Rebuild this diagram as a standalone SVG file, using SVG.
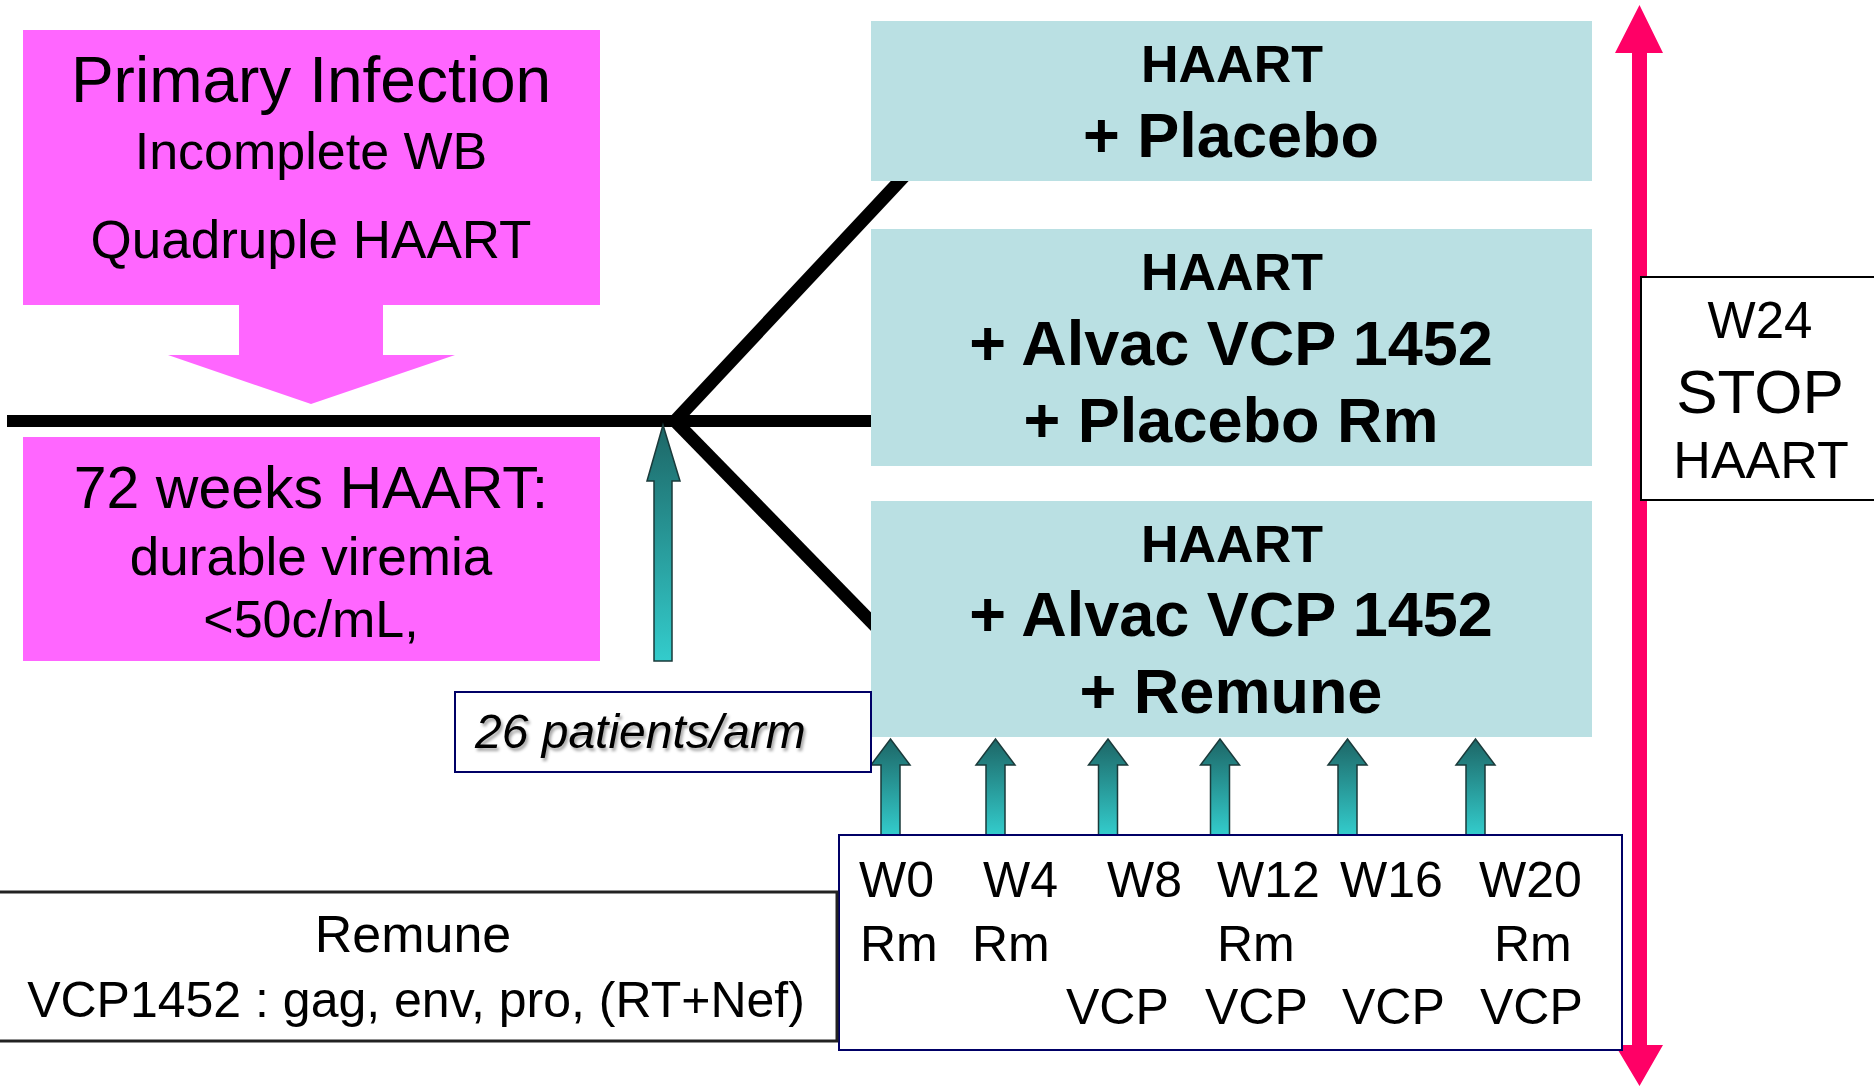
<svg xmlns="http://www.w3.org/2000/svg" width="1874" height="1089" viewBox="0 0 1874 1089">
<style>
text{font-family:"Liberation Sans",Arial,sans-serif;fill:#000}
.pink{fill:#FF66FF}
.arm{fill:#BAE0E3}
.b{font-weight:bold}
.bl{stroke:#000;stroke-width:12;fill:none}
.dg{stroke:#000;stroke-width:13;fill:none}
.ta{fill:url(#tg);stroke:#1a3a3a;stroke-width:1.5}
.wt{font-size:50px}
</style>
<defs>
<linearGradient id="tg" x1="0" y1="0" x2="0" y2="1">
<stop offset="0" stop-color="#1D6666"/>
<stop offset="1" stop-color="#33CCCC"/>
</linearGradient>
<path id="sa" d="M-9.5,96 V26 H-19.5 L0,0 L19.5,26 H9.5 V96 Z"/>
<filter id="sh" x="-10%" y="-10%" width="130%" height="140%">
<feDropShadow dx="2" dy="3" stdDeviation="1.5" flood-color="#000" flood-opacity="0.35"/>
</filter>
</defs>

<g id="connectors">
<line class="bl" x1="7" y1="421" x2="880" y2="421"/>
<line class="dg" x1="675" y1="421" x2="910" y2="170"/>
<line class="dg" x1="675" y1="421" x2="885" y2="636"/>
<path class="ta" d="M654,661 V481 H647 L663,425 L680,481 H672 V661 Z"/>
<use href="#sa" class="ta" x="890.5" y="739"/>
<use href="#sa" class="ta" x="995.5" y="739"/>
<use href="#sa" class="ta" x="1108" y="739"/>
<use href="#sa" class="ta" x="1220" y="739"/>
<use href="#sa" class="ta" x="1347.5" y="739"/>
<use href="#sa" class="ta" x="1475.5" y="739"/>
<path fill="#FF0066" d="M1632,53 H1615 L1639.5,5 L1663,53 H1647 V1045 H1663 L1639.5,1086 L1615,1045 H1632 Z"/>
</g>

<g id="primary-infection">
<path class="pink" d="M23,30 H600 V305 H383 V355 H455 L311,404 L168,355 H239 V305 H23 Z"/>
<text x="311" y="102" font-size="64" text-anchor="middle">Primary Infection</text>
<text x="311" y="169" font-size="52" text-anchor="middle">Incomplete WB</text>
<text x="311" y="258" font-size="53" text-anchor="middle">Quadruple HAART</text>
</g>

<g id="haart-72">
<rect class="pink" x="23" y="437" width="577" height="224"/>
<text x="311" y="508" font-size="59" text-anchor="middle">72 weeks HAART:</text>
<text x="311" y="575" font-size="53" text-anchor="middle">durable viremia</text>
<text x="311" y="637" font-size="52" text-anchor="middle">&lt;50c/mL,</text>
</g>

<g id="arm-placebo">
<rect class="arm" x="871" y="21" width="721" height="160"/>
<text class="b" x="1232" y="82" font-size="52" text-anchor="middle">HAART</text>
<text class="b" x="1231" y="157" font-size="63" text-anchor="middle">+ Placebo</text>
</g>

<g id="arm-alvac-placebo">
<rect class="arm" x="871" y="229" width="721" height="237"/>
<text class="b" x="1232" y="290" font-size="52" text-anchor="middle">HAART</text>
<text class="b" x="1231" y="365" font-size="63" text-anchor="middle">+ Alvac VCP 1452</text>
<text class="b" x="1231" y="442" font-size="63" text-anchor="middle">+ Placebo Rm</text>
</g>

<g id="arm-alvac-remune">
<rect class="arm" x="871" y="501" width="721" height="236"/>
<text class="b" x="1232" y="562" font-size="52" text-anchor="middle">HAART</text>
<text class="b" x="1231" y="636" font-size="63" text-anchor="middle">+ Alvac VCP 1452</text>
<text class="b" x="1231" y="713" font-size="63" text-anchor="middle">+ Remune</text>
</g>

<g id="patients">
<rect x="455" y="692" width="416" height="80" fill="#fff" stroke="#000066" stroke-width="2"/>
<text x="475" y="748" font-size="48" font-style="italic" filter="url(#sh)">26 patients/arm</text>
</g>

<g id="w24-stop">
<rect x="1641" y="277" width="240" height="223" fill="#fff" stroke="#000" stroke-width="2"/>
<text x="1760" y="338" font-size="51" text-anchor="middle">W24</text>
<text x="1760" y="413" font-size="62" text-anchor="middle">STOP</text>
<text x="1761" y="478" font-size="52" text-anchor="middle">HAART</text>
</g>

<g id="schedule">
<rect x="839" y="835" width="783" height="215" fill="#fff" stroke="#000066" stroke-width="2"/>
<text class="wt" x="859" y="897">W0</text>
<text class="wt" x="983" y="897">W4</text>
<text class="wt" x="1107" y="897">W8</text>
<text class="wt" x="1217" y="897">W12</text>
<text class="wt" x="1340" y="897">W16</text>
<text class="wt" x="1479" y="897">W20</text>
<text class="wt" x="860" y="961">Rm</text>
<text class="wt" x="972" y="961">Rm</text>
<text class="wt" x="1217" y="961">Rm</text>
<text class="wt" x="1494" y="961">Rm</text>
<text class="wt" x="1066" y="1024">VCP</text>
<text class="wt" x="1205" y="1024">VCP</text>
<text class="wt" x="1342" y="1024">VCP</text>
<text class="wt" x="1480" y="1024">VCP</text>
</g>

<g id="legend">
<rect x="-4" y="892" width="841" height="149" fill="#fff" stroke="#222" stroke-width="3"/>
<text x="413" y="952" font-size="52" text-anchor="middle">Remune</text>
<text x="416" y="1017" font-size="50" text-anchor="middle">VCP1452 : gag, env, pro, (RT+Nef)</text>
</g>
</svg>
